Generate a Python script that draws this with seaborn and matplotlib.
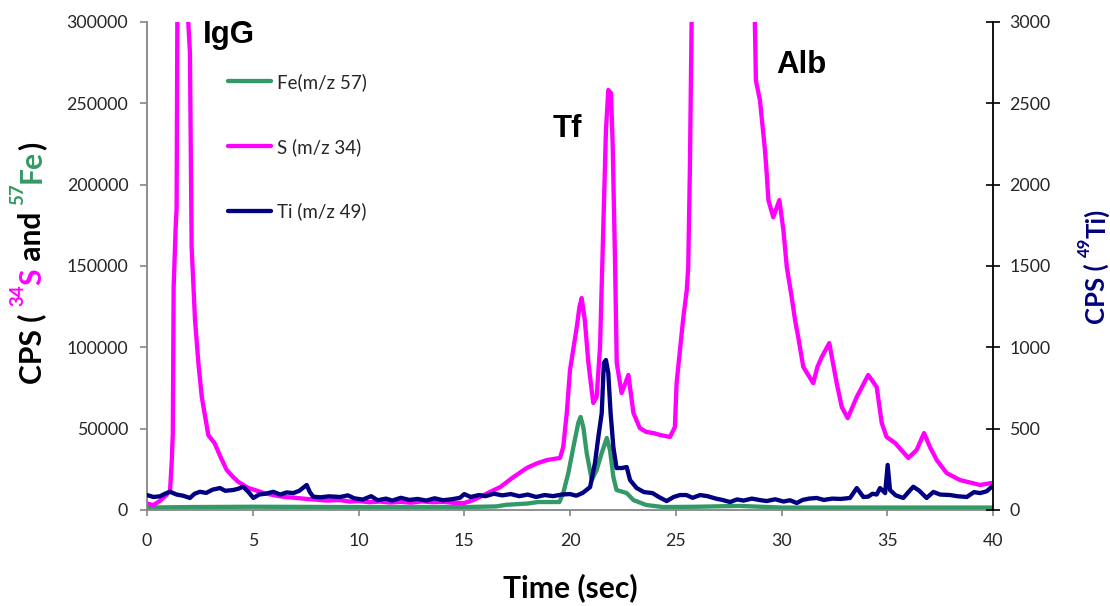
import matplotlib
matplotlib.use("Agg")
import matplotlib.pyplot as plt
from matplotlib.transforms import IdentityTransform
import seaborn as sns

# ---- chromatogram data -------------------------------------------------
# Sulfur (m/z 34), left axis
s_time = [0.0, 0.3, 0.6, 0.9, 1.09, 1.17, 1.22, 1.26, 1.35, 1.40, 1.44, 1.65,
          1.9, 1.95, 2.03, 2.11, 2.27, 2.43, 2.59, 2.9, 3.2, 3.5, 3.77, 4.07,
          4.3, 4.54, 4.8, 5.1, 5.5, 5.96, 6.5, 7.0, 7.55, 8.0, 8.5, 9.1, 9.6,
          10.0, 10.5, 11.0, 11.5, 12.0, 12.5, 13.0, 13.5, 14.0, 14.5, 15.0,
          15.4, 15.74, 16.2, 16.7, 17.3, 17.95, 18.4, 18.9, 19.3, 19.53, 19.68,
          19.85, 20.0, 20.32, 20.45, 20.55, 20.7, 20.87, 21.1, 21.26, 21.42,
          21.57, 21.7, 21.81, 21.94, 22.02, 22.13, 22.21, 22.44, 22.62, 22.76,
          23.0, 23.3, 23.6, 23.94, 24.3, 24.73, 24.96, 25.04, 25.2, 25.36,
          25.52, 25.59, 25.67, 25.75, 26.0, 27.3, 28.6, 28.74, 28.79, 28.98,
          29.22, 29.3, 29.38, 29.61, 29.75, 29.9, 30.09, 30.25, 30.48, 30.64,
          30.79, 31.03, 31.5, 31.7, 31.9, 32.26, 32.61, 32.85, 33.13, 33.56,
          34.1, 34.5, 34.74, 34.97, 35.37, 36.0, 36.39, 36.74, 37.02, 37.34,
          37.81, 38.44, 39.39, 39.94]
s_cps = [4000, 3000, 5500, 9000, 12000, 30000, 47000, 137000, 172000, 186000,
         320000, 900000, 320000, 300000, 281500, 161700, 116800, 90400, 69500,
         46000, 41000, 32000, 24600, 20300, 17500, 15400, 13500, 12300, 10500,
         9200, 8000, 7500, 6800, 6300, 5800, 6100, 5200, 5500, 4800, 5200,
         4600, 5000, 4500, 5300, 4800, 5000, 4400, 4300, 6000, 8000, 11000,
         14100, 20000, 25800, 28500, 30700, 31500, 32000, 38700, 60000, 86000,
         112500, 125000, 130300, 116800, 90400, 65800, 69500, 100200, 172100,
         233600, 258200, 256300, 223200, 151800, 90400, 71900, 78000, 83000,
         59600, 50400, 48000, 47300, 46000, 44900, 51000, 78000, 98000, 118600,
         135000, 149400, 211000, 300000, 600000, 900000, 420000, 300000,
         264000, 252000, 221000, 207000, 190500, 180000, 185000, 190500,
         172000, 149400, 131000, 116800, 106400, 88000, 78000, 88000, 94000,
         102600, 78000, 63300, 56500, 69500, 83000, 75600, 53500, 44900, 41200,
         32000, 36900, 47300, 38700, 30700, 22700, 18400, 15400, 16600]

# Iron (m/z 57), left axis
fe_time = [0, 2, 5, 10, 15, 16.5, 17.0, 18.0, 18.5, 19.5, 19.68, 19.92, 20.16,
           20.39, 20.5, 20.63, 20.79, 21.03, 21.26, 21.5, 21.74, 21.89, 22.05,
           22.2, 22.68, 23.0, 23.6, 24.4, 26, 28, 30, 35, 40]
fe_cps = [1500, 1800, 2000, 1800, 1800, 2200, 3200, 4000, 4900, 4900, 10400,
          22700, 38700, 53500, 57200, 51000, 35000, 18400, 24600, 35000, 44300,
          36900, 20300, 12300, 10400, 6100, 3100, 1800, 2000, 2500, 1500, 1500,
          1500]

# Titanium (m/z 49), right axis
ti_time = [0, 0.3, 0.61, 0.85, 1.09, 1.4, 1.7, 2.03, 2.25, 2.5, 2.8, 3.1, 3.45,
           3.7, 4.08, 4.3, 4.55, 4.8, 5.03, 5.3, 5.6, 5.97, 6.3, 6.6, 6.92,
           7.2, 7.55, 7.7, 7.86, 8.2, 8.6, 9.13, 9.5, 9.8, 10.2, 10.6, 10.9,
           11.3, 11.6, 12.0, 12.4, 12.8, 13.2, 13.6, 14.0, 14.4, 14.8, 15.0,
           15.3, 15.7, 16.0, 16.4, 16.8, 17.2, 17.6, 18.0, 18.4, 18.8, 19.2,
           19.6, 20.0, 20.3, 20.6, 20.95, 21.18, 21.34, 21.5, 21.6, 21.7,
           21.81, 21.92, 22.05, 22.2, 22.44, 22.68, 22.84, 23.15, 23.5, 23.9,
           24.2, 24.57, 24.9, 25.2, 25.5, 25.8, 26.15, 26.5, 26.9, 27.2, 27.57,
           27.9, 28.2, 28.6, 28.98, 29.3, 29.7, 30.1, 30.4, 30.72, 31.0, 31.3,
           31.66, 32.0, 32.4, 32.8, 33.24, 33.56, 33.87, 34.1, 34.3, 34.5,
           34.66, 34.9, 35.02, 35.13, 35.4, 35.76, 36.0, 36.23, 36.5, 36.86,
           37.18, 37.5, 37.97, 38.3, 38.76, 39.1, 39.39, 39.7, 40.0]
ti_cps = [92, 80, 84, 100, 112, 95, 88, 74, 100, 112, 105, 125, 135, 118, 123,
          130, 143, 110, 74, 95, 100, 112, 95, 108, 104, 118, 154, 110, 82, 78,
          84, 80, 90, 72, 64, 85, 60, 70, 58, 75, 62, 68, 58, 72, 60, 66, 75,
          98, 80, 92, 85, 100, 90, 98, 85, 95, 80, 92, 85, 95, 98, 88, 105,
          141, 289, 449, 596, 904, 922, 842, 596, 387, 258, 258, 264, 184, 135,
          110, 104, 80, 55, 80, 92, 92, 75, 92, 85, 70, 62, 49, 65, 58, 70, 61,
          55, 66, 52, 60, 43, 62, 70, 74, 62, 70, 68, 74, 135, 80, 82, 100, 95,
          135, 104, 277, 123, 90, 74, 110, 143, 120, 74, 111, 95, 92, 85, 80,
          110, 104, 115, 150]

series_labels = ["Fe(m/z 57)", "S (m/z 34)", "Ti (m/z 49)"]
x_ticks = [0, 5, 10, 15, 20, 25, 30, 35, 40]
left_ticks = [0, 50000, 100000, 150000, 200000, 250000, 300000]
right_ticks = [0, 500, 1000, 1500, 2000, 2500, 3000]
peak_names = ["IgG", "Tf", "Alb"]
peak_pos = [(2.65, 287000), (19.2, 229300), (29.75, 268600)]

GREEN = "#339966"
MAGENTA = "#FF00FF"
NAVY = "#000080"
GREY = "#868686"

# ---- figure -------------------------------------------------------------
sns.set_theme(style="white")
plt.rcParams["font.family"] = ["Lato", "DejaVu Sans"]

W, H = 1110, 606
fig = plt.figure(figsize=(W / 100, H / 100), dpi=100)
ax = fig.add_axes([147 / W, 96 / H, 846 / W, 488 / H])
ax2 = ax.twinx()

lw = 3.1
sns.lineplot(x=fe_time, y=fe_cps, ax=ax, color=GREEN, linewidth=lw, legend=False)
sns.lineplot(x=s_time, y=s_cps, ax=ax, color=MAGENTA, linewidth=lw, legend=False)
sns.lineplot(x=ti_time, y=ti_cps, ax=ax2, color=NAVY, linewidth=lw, legend=False)

ax.set_xlim(0, 40)
ax.set_ylim(0, 300000)
ax2.set_ylim(0, 3000)
ax.set_xlabel("")
ax.set_ylabel("")
ax2.set_ylabel("")

ax.set_xticks(x_ticks)
ax.set_xticklabels([str(v) for v in x_ticks])
ax.set_yticks(left_ticks)
ax.set_yticklabels([str(v) for v in left_ticks])
ax2.set_yticks(right_ticks)
ax2.set_yticklabels([str(v) for v in right_ticks])

for side in ("top", "right"):
    ax.spines[side].set_visible(False)
for side in ("left", "bottom"):
    ax.spines[side].set_color(GREY)
    ax.spines[side].set_linewidth(1.3)
for side in ("top", "left", "bottom"):
    ax2.spines[side].set_visible(False)
ax2.spines["right"].set_color("black")
ax2.spines["right"].set_linewidth(1.3)

ax.tick_params(axis="y", direction="out", length=5, width=1.2, color=GREY,
               pad=8.5, labelsize=12.8, left=True)
ax.tick_params(axis="x", direction="out", length=4.3, width=1.2, color=GREY,
               pad=12, labelsize=12.8, bottom=True)
ax2.tick_params(axis="y", direction="inout", length=9.4, width=1.2,
                color="black", pad=7, labelsize=12.8, right=True)
ax.grid(False)
ax2.grid(False)

# legend
handles = [ax.lines[0], ax.lines[1], ax2.lines[0]]
ax2.legend(handles, series_labels, loc="upper left",
           bbox_to_anchor=(228 / W, 1 - 73 / H), bbox_transform=fig.transFigure,
           frameon=False, borderpad=0, borderaxespad=0, handlelength=2.3,
           handletextpad=0.32, labelspacing=2.5, fontsize=13.5)

# peak names
for name, (px, py) in zip(peak_names, peak_pos):
    ax.text(px, py, name, family=["Liberation Sans", "DejaVu Sans"],
            weight="bold", size=22.5, ha="left", va="baseline", color="black")

# x axis title
fig.text(570, 9, "Time (sec)", transform=IdentityTransform(), ha="center",
         va="baseline", fontsize=21.6, fontweight="bold", color="black")

# rotated multi-colour axis titles with superscript isotopes
renderer = fig.canvas.get_renderer()


def _advance(s, size):
    probe = fig.text(0, 0, s + "|", fontsize=size, fontweight="bold")
    w1 = probe.get_window_extent(renderer).width
    probe.remove()
    probe = fig.text(0, 0, "|", fontsize=size, fontweight="bold")
    w2 = probe.get_window_extent(renderer).width
    probe.remove()
    return w1 - w2


def vertical_title(x_base, y_start, pieces, size, sup_size, raise_px):
    y = y_start
    for text, color, sup in pieces:
        fs = sup_size if sup else size
        x = x_base - (raise_px if sup else 0)
        fig.text(x, y, text, transform=IdentityTransform(), rotation=90,
                 rotation_mode="anchor", ha="left", va="baseline",
                 fontsize=fs, fontweight="bold", color=color)
        y += _advance(text, fs)


vertical_title(41, H - 384, [("CPS ( ", "black", False), ("34", MAGENTA, True),
                             ("S", MAGENTA, False), (" and ", "black", False),
                             ("57", GREEN, True), ("Fe", GREEN, False),
                             (")", "black", False)],
               size=21.6, sup_size=13.5, raise_px=18)
vertical_title(1105, H - 324, [("CPS ( ", NAVY, False), ("49", NAVY, True),
                               ("Ti)", NAVY, False)],
               size=18.5, sup_size=12, raise_px=15)

fig.savefig("out.png", dpi=100)
